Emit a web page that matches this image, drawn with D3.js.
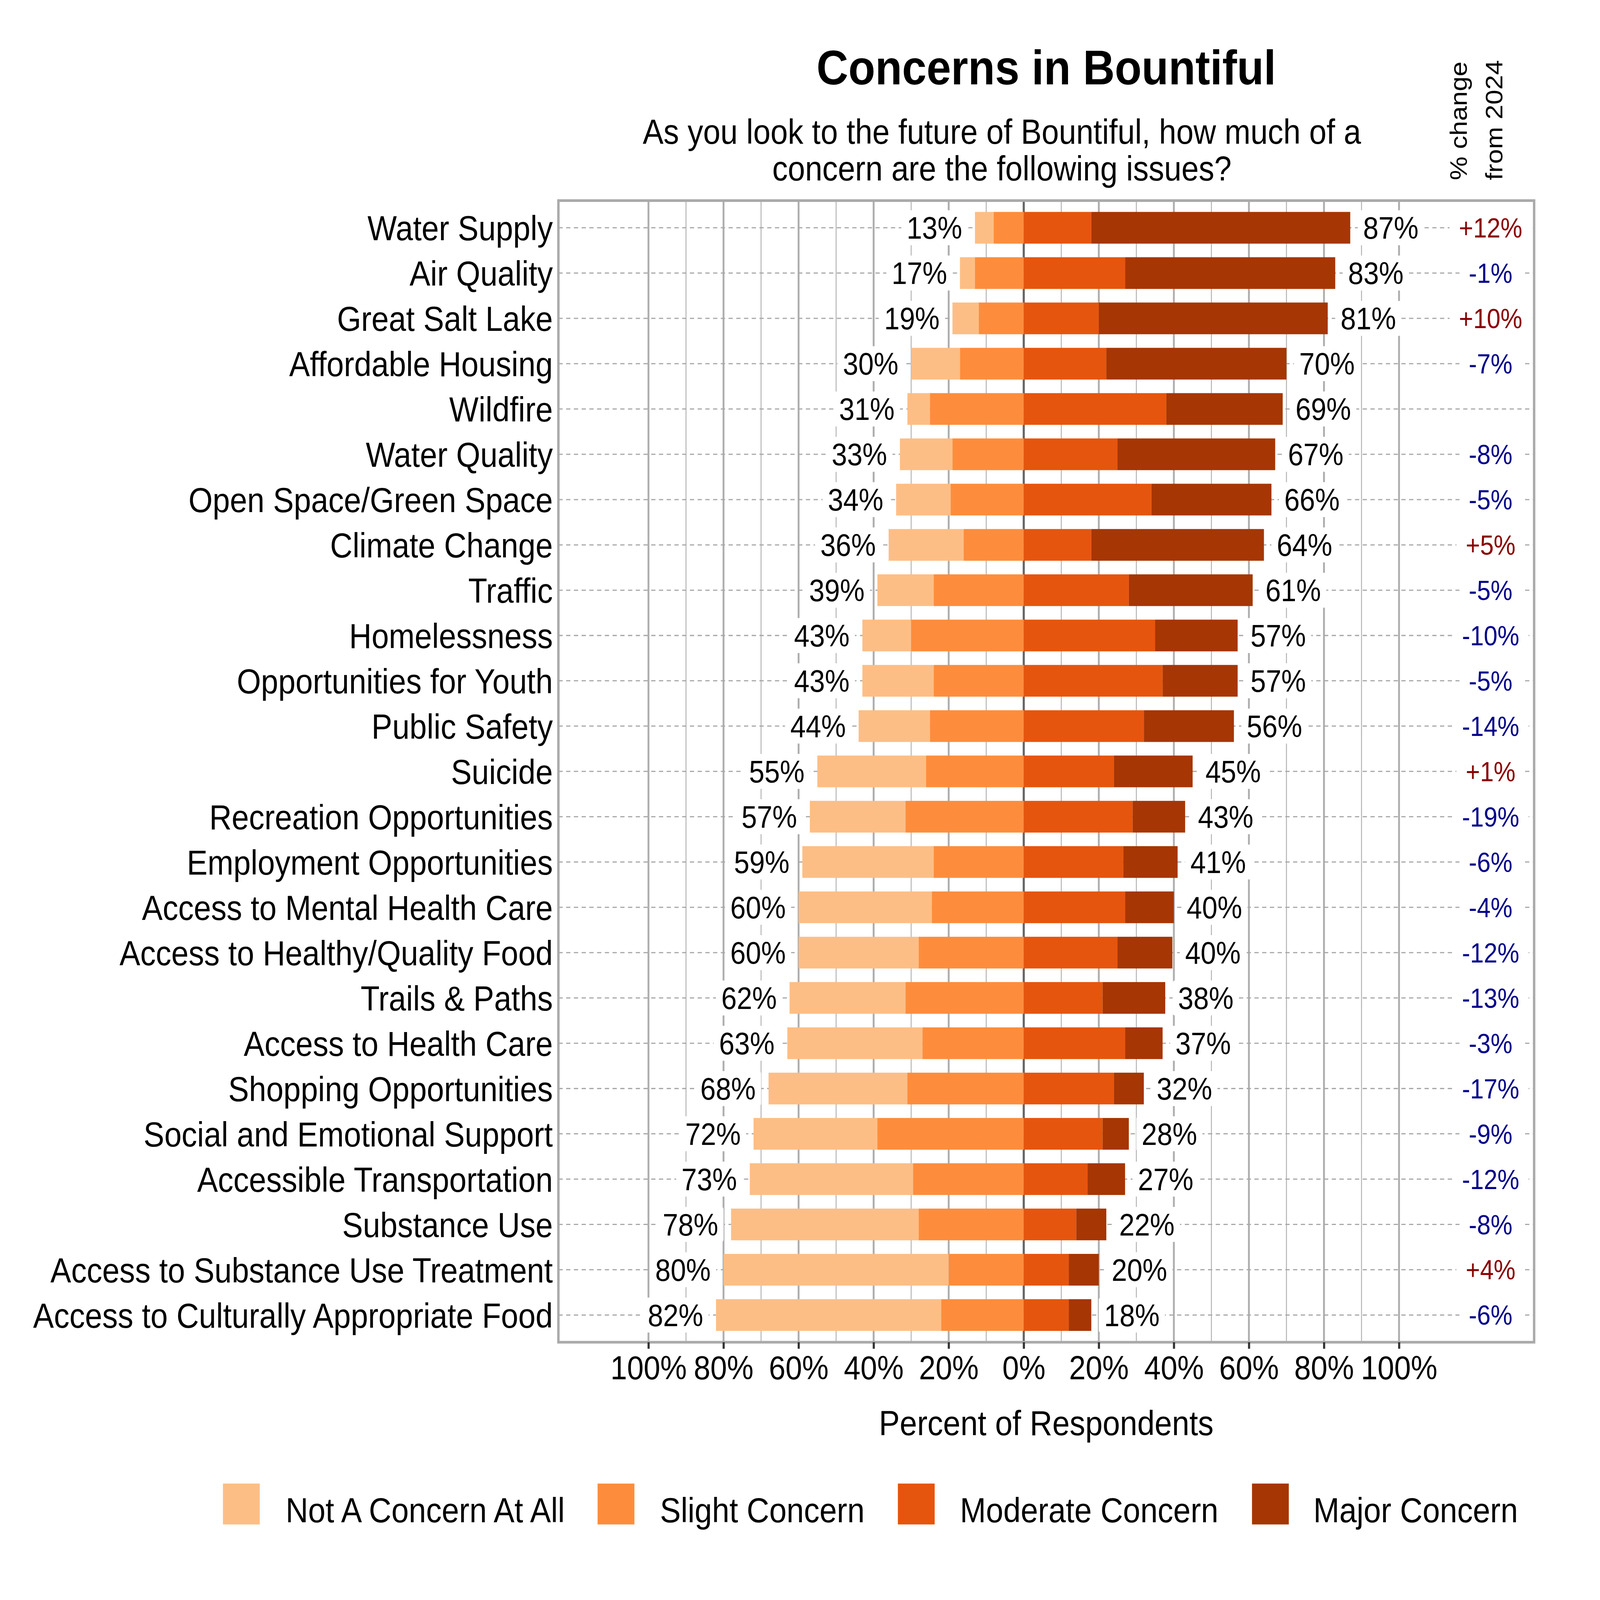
<!DOCTYPE html>
<html><head><meta charset="utf-8">
<script src="https://cdn.jsdelivr.net/npm/d3@7"></script>
<style>
html,body{margin:0;padding:0;background:#fff;overflow:hidden;width:100%;height:100%}
svg{display:block;width:100vw;height:100vh}
text{font-family:"Liberation Sans",Arial,Helvetica,sans-serif}
</style>
</head><body>
<svg id="chart" viewBox="0 0 6000 5400" preserveAspectRatio="none"></svg>
<script>
// ---------- DATA ----------
const categories = ["Water Supply","Air Quality","Great Salt Lake","Affordable Housing","Wildfire","Water Quality","Open Space/Green Space","Climate Change","Traffic","Homelessness","Opportunities for Youth","Public Safety","Suicide","Recreation Opportunities","Employment Opportunities","Access to Mental Health Care","Access to Healthy/Quality Food","Trails & Paths","Access to Health Care","Shopping Opportunities","Social and Emotional Support","Accessible Transportation","Substance Use","Access to Substance Use Treatment","Access to Culturally Appropriate Food"];
const notConcern = [5,4,7,13,6,14,14.5,20,15,13,19,19,29,25.5,35,35.5,32,30.9,36,37,33,43.5,50,60,60];
const slightConcern = [8,13,12,17,25,19,19.5,16,24,30,24,25,26,31.5,24,24.5,28,31.5,27,31,39,29.5,28,20,22];
const moderateConcern = [18,27,20,22,38,25,34,18,28,35,37,32,24,29,26.5,27,25,21,27,24,21,17,14,12,12];
const majorConcern = [69,56,61,48,31,42,32,46,33,22,20,24,21,14,14.5,13,14.6,16.7,10,8,7,10,8,8,6];
const changeFrom2024 = [12,-1,10,-7,null,-8,-5,5,-5,-10,-5,-14,1,-19,-6,-4,-12,-13,-3,-17,-9,-12,-8,4,-6];
const seriesNames = ["Not A Concern At All","Slight Concern","Moderate Concern","Major Concern"];
const seriesColors = ["#FDBE85","#FD8D3C","#E6550D","#A63603"];
const tickValues = [-100,-80,-60,-40,-20,0,20,40,60,80,100];
const gridValues = [-100,-90,-80,-70,-60,-50,-40,-30,-20,-10,0,10,20,30,40,50,60,70,80,90,100];

// ---------- SETUP ----------
const svg = d3.select("#chart");
svg.append("rect").attr("width",6000).attr("height",5400).attr("fill","#fff");
const panel = {l:2094, r:5753, t:677, b:4530};
const x = d3.scaleLinear().domain([-124,136]).range([panel.l, panel.r]);
const y = d3.scalePoint().domain(categories).range([panel.t, panel.b]).padding(0.6);
const barH = y.step()*0.7;
const color = d3.scaleOrdinal().domain(seriesNames).range(seriesColors);

// gridlines
const grid = svg.append("g");
grid.selectAll("line").data(gridValues).join("line")
  .attr("x1",d=>x(d)).attr("x2",d=>x(d))
  .attr("y1",panel.t).attr("y2",panel.b)
  .attr("stroke",d=>d===0?"#666":"#AEAEAE")
  .attr("stroke-width",d=>d===0?8:(d%20===0?7:3.3));

// horizontal dotted lines
svg.append("g").selectAll("line").data(categories).join("line")
  .attr("x1",panel.l).attr("x2",panel.r)
  .attr("y1",d=>y(d)).attr("y2",d=>y(d))
  .attr("stroke","#A8A8A8").attr("stroke-width",4).attr("stroke-dasharray","16,13");

// segments
const segs = [];
categories.forEach((c,i)=>{
  const n=notConcern[i], s=slightConcern[i], m=moderateConcern[i], j=majorConcern[i];
  segs.push({c, k:seriesNames[0], x0:-(n+s), x1:-s});
  segs.push({c, k:seriesNames[1], x0:-s, x1:0});
  segs.push({c, k:seriesNames[2], x0:0, x1:m});
  segs.push({c, k:seriesNames[3], x0:m, x1:m+j});
});
svg.append("g").selectAll("rect").data(segs).join("rect")
  .attr("x",d=>x(d.x0)).attr("width",d=>x(d.x1)-x(d.x0))
  .attr("y",d=>y(d.c)-barH/2).attr("height",barH)
  .attr("fill",d=>color(d.k));

// labels with white boxes
function boxedText(g, tx, ty, str, anchor, size, fill, padX, boxH){
  const grp = g.append("g");
  const r = grp.append("rect").attr("fill","#fff");
  const t = grp.append("text").attr("x",tx).attr("y",ty).attr("text-anchor",anchor)
    .attr("font-size",size).attr("fill",fill).text(str);
  const bb = t.node().getBBox();
  const cy = ty - 0.358*size;
  r.attr("x",bb.x-padX).attr("width",bb.width+2*padX)
   .attr("y",cy-boxH/2).attr("height",boxH).attr("rx",8);
}
const lab = svg.append("g");
categories.forEach((c,i)=>{
  const left = notConcern[i]+slightConcern[i];
  const right = moderateConcern[i]+majorConcern[i];
  const yy = y(c);
  boxedText(lab, x(-left)-48, yy+0.358*104, Math.round(left)+"%", "end", 104, "#000", 20, 118);
  boxedText(lab, x(right)+48, yy+0.358*104, Math.round(right)+"%", "start", 104, "#000", 20, 118);
  const ch = changeFrom2024[i];
  if(ch!==null){
    boxedText(lab, x(124.4), yy+0.358*92, (ch>0?"+":"")+ch+"%", "middle", 92, ch>0?"#8B0000":"#00008B", 35, 110);
  }
});

// panel border
svg.append("rect").attr("x",panel.l).attr("y",panel.t)
  .attr("width",panel.r-panel.l).attr("height",panel.b-panel.t)
  .attr("fill","none").attr("stroke","#AAAAAA").attr("stroke-width",9);

// x axis
const xAxis = d3.axisBottom(x).tickValues(tickValues)
  .tickFormat(d=>Math.abs(d)+"%").tickSize(22).tickPadding(23);
const gx = svg.append("g").attr("transform",`translate(0,${panel.b})`).call(xAxis);
gx.select(".domain").remove();
gx.selectAll(".tick line").attr("stroke","#333").attr("stroke-width",8);
gx.selectAll(".tick text").attr("font-size",112).attr("fill","#000")
  .attr("font-family",'"Liberation Sans",Arial,sans-serif');

// y axis
const yAxis = d3.axisLeft(y).tickSize(0).tickPadding(21);
const gy = svg.append("g").attr("transform",`translate(${panel.l},0)`).call(yAxis);
gy.select(".domain").remove();
gy.selectAll(".tick text").attr("font-size",116.5).attr("fill","#000").attr("dy","0.358em")
  .attr("font-family",'"Liberation Sans",Arial,sans-serif');

// titles
const cx = (panel.l+panel.r)/2;
svg.append("text").attr("x",cx).attr("y",285).attr("text-anchor","middle")
  .attr("font-size",165).attr("font-weight","bold").text("Concerns in Bountiful");
svg.append("text").attr("x",3757).attr("y",485).attr("text-anchor","middle")
  .attr("font-size",116.5).text("As you look to the future of Bountiful, how much of a");
svg.append("text").attr("x",3757).attr("y",609).attr("text-anchor","middle")
  .attr("font-size",116.5).text("concern are the following issues?");
svg.append("text").attr("x",cx).attr("y",4844).attr("text-anchor","middle")
  .attr("font-size",117).text("Percent of Respondents");

// change header (rotated)
[["% change",5500],["from 2024",5634]].forEach(([s,bx])=>{
  svg.append("text").attr("transform",`translate(${bx},608) rotate(-90)`)
    .attr("text-anchor","start").attr("font-size",90).text(s);
});

// legend
const legPos = [{k:836,t:1071},{k:2241,t:2475},{k:3367,t:3600},{k:4695,t:4925}];
const leg = svg.append("g");
seriesNames.forEach((s,i)=>{
  leg.append("rect").attr("x",legPos[i].k).attr("y",5007).attr("width",138).attr("height",138).attr("fill",color(s));
  leg.append("text").attr("x",legPos[i].t).attr("y",5138).attr("font-size",117).text(s);
});
</script>
</body></html>
